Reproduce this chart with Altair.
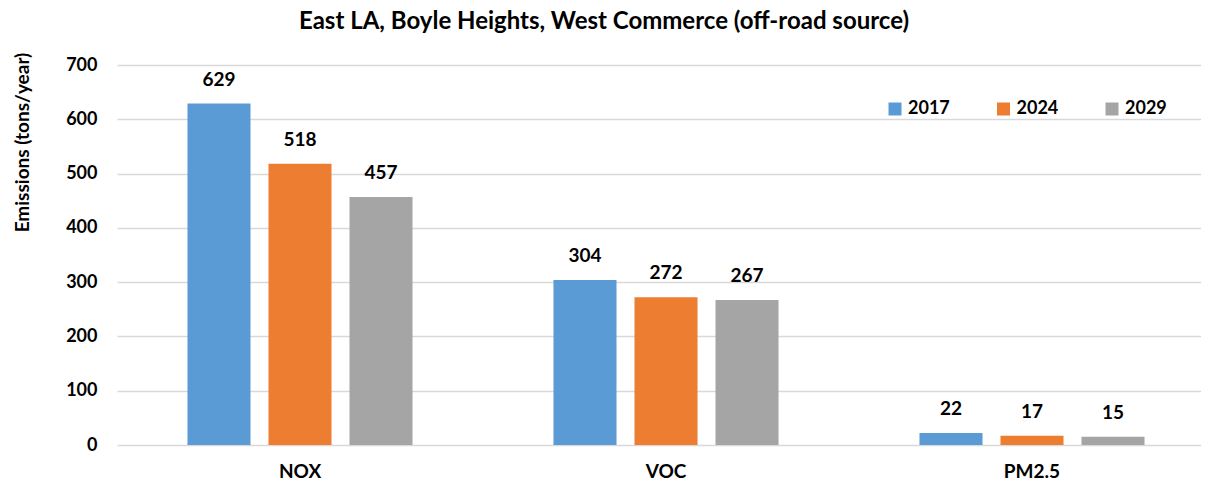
import altair as alt
import pandas as pd

pollutants = ["NOX", "VOC", "PM2.5"]
years = ["2017", "2024", "2029"]
v2017 = [629, 304, 22]
v2024 = [518, 272, 17]
v2029 = [457, 267, 15]
colors = ["#5B9BD5", "#ED7D31", "#A5A5A5"]

rows = []
for i, p in enumerate(pollutants):
    for y, vals in zip(years, [v2017, v2024, v2029]):
        rows.append({"pollutant": p, "year": y, "value": vals[i]})
df = pd.DataFrame(rows)

FONT = "Lato"

x = alt.X("pollutant:N", sort=pollutants, title=None,
          scale=alt.Scale(paddingInner=0, paddingOuter=0, range=[0, 1098]),
          axis=alt.Axis(labelAngle=0, labelFontSize=19, labelFontWeight="bold", labelColor="#000",
                        labelFont=FONT, ticks=False, domain=False, labelPadding=17))
y = alt.Y("value:Q", title="Emissions (tons/year)",
          scale=alt.Scale(domain=[0, 700]),
          axis=alt.Axis(values=[0, 100, 200, 300, 400, 500, 600, 700], labelFontSize=18,
                        labelFontWeight="bold", labelColor="#000", labelFont=FONT,
                        ticks=False, domain=False, gridColor="#D9D9D9", gridWidth=1.5,
                        labelPadding=20, titleFontSize=19, titleFontWeight="bold",
                        titleFont=FONT, titleColor="#000", titleAngle=-90,
                        titleX=-95, titleY=77, titleAlign="center", titleBaseline="middle"))
xo = alt.XOffset("year:N", sort=years,
                 scale=alt.Scale(paddingInner=0.222, paddingOuter=0.87))

bars = alt.Chart(df).mark_bar().encode(
    x=x, y=y, xOffset=xo,
    color=alt.Color("year:N", sort=years,
                    scale=alt.Scale(domain=years, range=colors),
                    legend=alt.Legend(title=None, orient="none", legendX=769, legendY=35,
                                      direction="horizontal", columns=3, symbolType="square",
                                      symbolSize=169, symbolStrokeWidth=0, labelFontSize=18,
                                      labelFontWeight="bold", labelFont=FONT, labelColor="#000",
                                      columnPadding=44.5, labelOffset=4)),
)

labels = alt.Chart(df).mark_text(baseline="bottom", dy=-14, fontSize=19, fontWeight="bold",
                                 font=FONT, color="#000").encode(
    x=x, y=y, xOffset=xo, text="value:Q"
)

chart = (bars + labels).properties(
    width=1084, height=380,
    title=alt.TitleParams("East LA, Boyle Heights, West Commerce (off-road source)",
                          fontSize=24, fontWeight="bold", font=FONT, color="#000",
                          anchor="middle", dx=-55, offset=18),
    autosize=alt.AutoSizeParams(type="none"),
    padding={"left": 109, "top": 57, "right": 0, "bottom": 40},
).configure_view(stroke=None)

chart.save("out.html", embed_options={"renderer": "svg", "actions": False})
